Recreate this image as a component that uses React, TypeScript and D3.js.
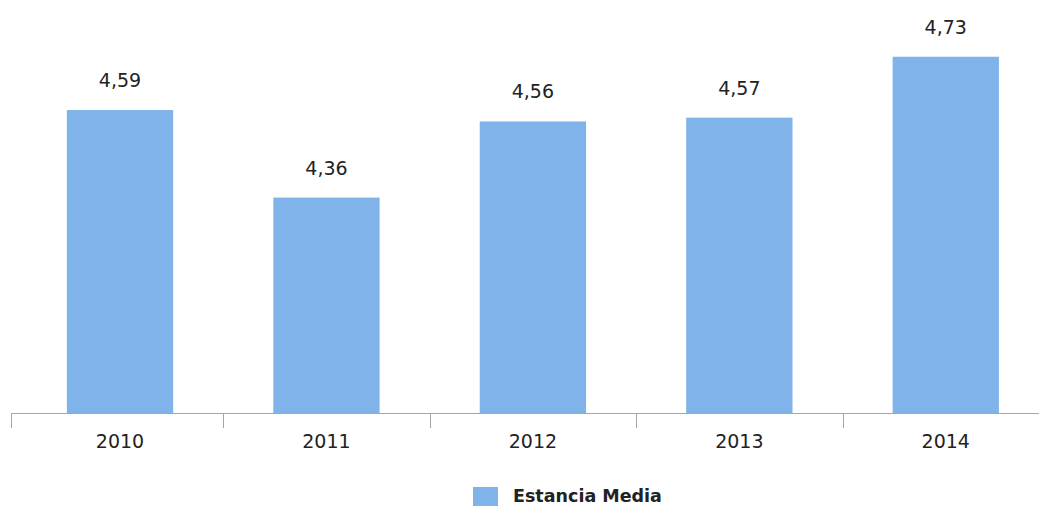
import React from "react";
import * as d3 from "d3";

const years = ["2010", "2011", "2012", "2013", "2014"];
const values = [4.59, 4.36, 4.56, 4.57, 4.73];
const seriesName = "Estancia Media";

const W = 1039;
const H = 506;
const BASE = 413;

export default function App() {
  const x = d3.scaleBand<string>().domain(years).range([16.8, 1049]).paddingInner(0.485).paddingOuter(0.2425);
  const y = d3.scaleLinear().domain([3.794, 4.753]).range([BASE, 48]);
  const fmt = (v: number) => v.toFixed(2).replace(".", ",");
  const step = x.step();
  const tickXs = years.map((yr, i) => (i === 0 ? 11 : (x(yr) as number) - (step - x.bandwidth()) / 2));
  const font = "'DejaVu Sans', sans-serif";
  return (
    <svg width={W} height={H} style={{ position: "absolute", left: 0, top: 0, background: "#fff" }}>
      {years.map((yr, i) => (
        <rect key={yr} x={x(yr)} y={y(values[i])} width={x.bandwidth()} height={BASE - y(values[i])} fill="#7fb3e9" />
      ))}
      <line x1={11} x2={W} y1={BASE + 0.5} y2={BASE + 0.5} stroke="#a6a6a6" strokeWidth={1} />
      {tickXs.map((tx, i) => (
        <line key={i} x1={Math.round(tx) + 0.5} x2={Math.round(tx) + 0.5} y1={BASE} y2={428} stroke="#a6a6a6" strokeWidth={1} />
      ))}
      {years.map((yr) => (
        <text key={yr} x={(x(yr) as number) + x.bandwidth() / 2} y={448} textAnchor="middle" fontFamily={font} fontSize={19} fill="#222">
          {yr}
        </text>
      ))}
      {years.map((yr, i) => (
        <text key={yr} x={(x(yr) as number) + x.bandwidth() / 2} y={y(values[i]) - 23} textAnchor="middle" fontFamily={font} fontSize={19} fill="#222">
          {fmt(values[i])}
        </text>
      ))}
      <rect x={473} y={487} width={25} height={19} fill="#7fb3e9" />
      <text x={513} y={502} fontFamily={font} fontSize={17.5} fontWeight="bold" fill="#222">
        {seriesName}
      </text>
    </svg>
  );
}
